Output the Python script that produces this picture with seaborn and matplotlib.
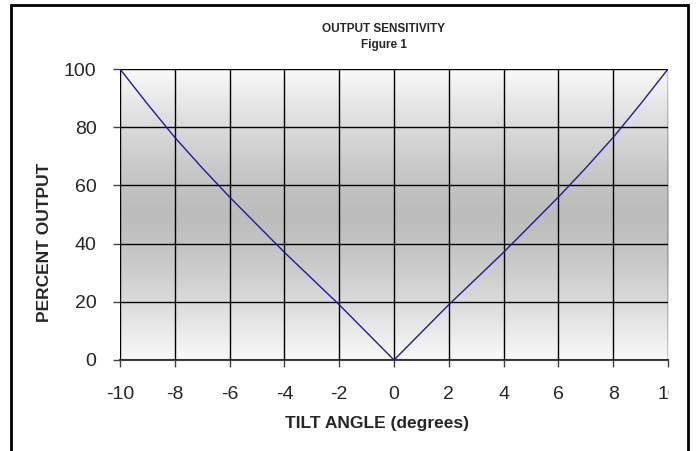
import numpy as np
import pandas as pd
import seaborn as sns
import matplotlib
matplotlib.use('Agg')
import matplotlib.pyplot as plt
from matplotlib.patches import Rectangle
from matplotlib.transforms import Bbox

# values
tilt = [-10, -9, -8, -7, -6, -5, -4, -3, -2, -1, 0, 1, 2, 3, 4, 5, 6, 7, 8, 9, 10]
output = [100, 88, 76.5, 66, 56, 46.5, 37, 28, 19, 9.5, 0,
          9.5, 19, 28, 37, 46.5, 56, 66, 76.5, 88, 100]
xticks = [-10, -8, -6, -4, -2, 0, 2, 4, 6, 8, 10]
yticks = [0, 20, 40, 60, 80, 100]

df = pd.DataFrame({'Tilt': tilt, 'Output': output})

sns.set_style('white')
plt.rcParams['font.family'] = ['Liberation Sans', 'DejaVu Sans']
plt.rcParams['axes.unicode_minus'] = False

fig = plt.figure(figsize=(6.97, 4.51), dpi=100)
ax = fig.add_axes([120 / 697, 1 - 360 / 451, 548 / 697, 291 / 451])

# grey band in the middle fading to white at top and bottom
t = np.linspace(0, 1, 256)
shade = 0.74 + 0.24 * (np.abs(t - 0.5) * 2) ** 1.4
grad = np.dstack([shade, shade, shade])[0][:, None, :]
ax.imshow(grad, extent=[-10, 10, 0, 100], aspect='auto', zorder=0,
          interpolation='bilinear')

sns.lineplot(data=df, x='Tilt', y='Output', color='#1c1ca0', linewidth=1.0,
             ax=ax, zorder=3)

ax.set_xlim(-10, 10)
ax.set_ylim(0, 100)
ax.set_xticks(xticks)
ax.set_yticks(yticks)
ax.grid(True, color='black', linewidth=1.0, zorder=2)
ax.set_axisbelow(False)
for s in ['top', 'right', 'left']:
    ax.spines[s].set_visible(False)
ax.spines['bottom'].set_color('#404040')
ax.spines['bottom'].set_linewidth(1.5)

ax.tick_params(axis='both', direction='out', length=5, width=1, color='#404040',
               labelsize=14, bottom=True, left=True)
ax.tick_params(axis='y', pad=12)
ax.tick_params(axis='x', pad=14)

ax.set_xlabel('TILT ANGLE (degrees)', fontsize=12.5, fontweight='bold', va='center')
ax.set_ylabel('PERCENT OUTPUT', fontsize=12.5, fontweight='bold', va='center')
ax.xaxis.set_label_coords(0.469, -0.2165)
ax.yaxis.set_label_coords(-0.138, 0.405)

fig.text(384 / 697, 1 - 29 / 451, 'OUTPUT SENSITIVITY', ha='center', va='center',
         fontsize=8.5, fontweight='bold')
fig.text(384 / 697, 1 - 45 / 451, 'Figure 1', ha='center', va='center',
         fontsize=8.5, fontweight='bold')

# outer frame
fig.patches.append(Rectangle((11 / 697, -0.05), (688 - 11) / 697, 1.05 - 5 / 451,
                             transform=fig.transFigure, fill=False,
                             edgecolor='black', linewidth=2))

# the last tick label is cut off in the reference
fig.canvas.draw()
last = ax.get_xticklabels()[-1]
last.set_clip_box(Bbox([[0, 0], [668.5, 451]]))
last.set_clip_on(True)

fig.savefig('out.png', dpi=100)
